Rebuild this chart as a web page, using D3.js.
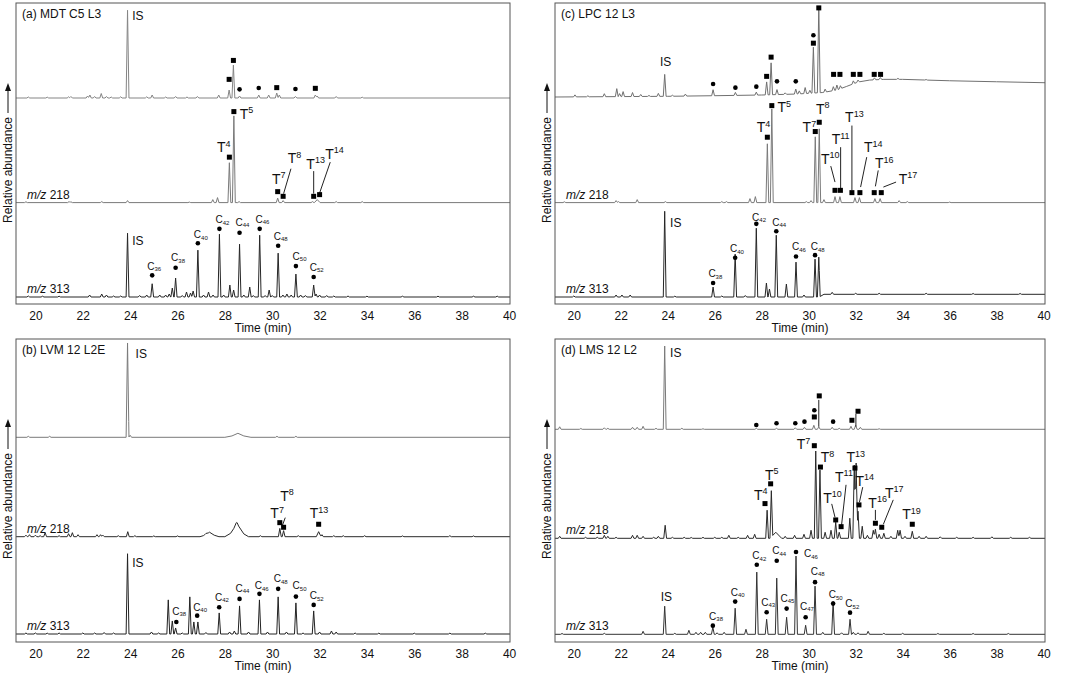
<!DOCTYPE html>
<html>
<head>
<meta charset="utf-8">
<script src="https://cdn.jsdelivr.net/npm/d3@7"></script>
<style>
  body { margin: 0; background: #fff; }
  svg { display: block; }
  text, tspan { font-family: "Liberation Sans", Arial, sans-serif; fill: #111; }
</style>
</head>
<body>
<svg id="chart" width="1065" height="675"></svg>
<script>
// ---- shared axis data ----
const timeTicks = [20, 22, 24, 26, 28, 30, 32, 34, 36, 38, 40];
const panelTitles = ["(a) MDT C5 L3", "(c) LPC 12 L3", "(b) LVM 12 L2E", "(d) LMS 12 L2"];
const traceNames = ["", "218", "313"];

// peaks: [time (min), height, half width (optional)]  heights in relative units
// marks: [time, level, "s" square | "c" circle]
// tLabels: [hopane number, time, level]   cLabels: [carbon number, time, level]
// leaders: [t1, level1, t2, level2]

// ===== (a) MDT C5 L3 =====
const aTopPeaks = [[19.7,1],[20.5,0.8],[21.4,1.2],[21.5,1.5],[22.2,2],[22.3,3],[22.5,1.5],[22.78,4.5],[23.0,1.5],[23.2,1],[23.6,1.2],[23.89,88],[24.7,1.2],[24.93,3],[25.5,1],[25.92,1.5],[26.4,1],[26.84,1.5],[27.74,3],[28.18,8],[28.36,33],[28.62,2],[29.43,3],[29.85,3],[30.19,5],[30.3,3],[30.98,1.5],[31.82,3],[31.9,2],[32.7,1.5],[33.8,0.8]];
const aTopMarks = [[28.18,18.7,"s"],[28.36,37.7,"s"],[28.62,8.7,"c"],[29.43,10,"c"],[30.19,10.4,"s"],[30.98,9,"c"],[31.82,9.7,"s"]];
const aTopIS = [24.09, 78];

const aMidPeaks = [[19.6,0.8],[21.42,1],[21.5,0.8],[22.8,1],[23.89,2],[26.5,0.5],[27.49,3],[27.69,5],[28.19,40],[28.38,87],[28.6,1],[30.23,4.5],[30.46,2],[31.7,1],[31.9,3,0.12],[32.7,1],[33.8,1]];
const aMidMarks = [[28.19,45.6,"s"],[28.38,91.3,"s"],[30.23,11,"s"],[30.46,6.3,"s"],[31.75,6.3,"s"],[32.0,8,"s"]];
const aMidT = [["4",27.67,50.6],["5",28.63,84],["7",29.99,19],["8",30.65,39.6],["13",31.44,34],["14",32.24,44]];
const aMidLeaders = [[30.48,9,30.79,34],[31.75,9,31.75,31.6],[32.0,9.6,32.45,40.6]];

const aBotPeaks = [[19.7,1],[20.3,0.8],[21.0,0.8],[22.29,2],[22.8,3],[23.0,2],[23.3,1],[23.6,1],[23.89,64],[24.4,1.5],[24.7,2],[24.93,13.3],[25.25,2],[25.5,2],[25.65,3],[25.78,9],[25.92,19],[26.2,1.5],[26.38,5],[26.55,4],[26.66,6],[26.86,47],[27.1,2],[27.31,5],[27.5,2],[27.77,63],[27.95,2],[28.21,12],[28.37,7],[28.62,53],[28.8,2],[29.05,10],[29.2,1.5],[29.47,62],[29.7,1.5],[29.87,7],[30.0,1.5],[30.25,44],[30.45,2],[30.62,3],[30.8,2],[31.0,23],[31.2,2],[31.4,1.5],[31.75,12],[31.85,3],[32.0,2],[32.3,1.5],[32.6,1],[33.2,1],[34,0.8],[35.5,0.8],[37.0,0.8],[38.5,0.8],[39.5,0.8]];
const aBotMarks = [[24.93,21.7,"c"],[25.92,29.4,"c"],[26.86,54,"c"],[27.77,68.4,"c"],[28.62,64.4,"c"],[29.47,68.4,"c"],[30.25,51.4,"c"],[31.0,31,"c"],[31.75,20,"c"]];
const aBotC = [["36",24.72,27.4],["38",25.73,35.7],["40",26.69,59],["42",27.6,74],["44",28.45,71.4],["46",29.29,74.7],["48",30.06,57.4],["50",30.86,37.4],["52",31.58,26.4]];
const aBotIS = [24.09, 52.4];

// ===== (c) LPC 12 L3 =====
const cTopPeaks = [[20.05,2],[20.6,1],[21.3,3],[21.83,8],[21.95,3],[22.1,5],[22.5,4],[22.85,2],[23.2,1],[23.6,3],[23.87,22],[24.2,1],[24.75,2],[25.93,6],[26.88,3],[27.77,3],[28.21,13],[28.4,32],[28.65,5],[29.0,1.5],[29.45,5],[29.6,3],[29.85,6],[30.05,3],[30.2,46],[30.43,87],[30.7,3],[31.05,4],[31.2,5],[31.35,3],[31.9,3],[32.1,2],[32.8,2],[33.05,2],[33.8,1],[35,0.5]];
const cTopBase = [[19.2,0],[24,0.7],[26,1.3],[28,2],[29.5,3],[30.6,4.5],[31.2,7],[31.6,10.5],[32.1,15],[32.6,17],[33.2,17.7],[34,17.7],[35,17],[36,16.3],[38,15.3],[40.1,14.3]];
const cTopMarks = [[25.93,13,"c"],[26.88,9.4,"c"],[27.77,10.4,"c"],[28.21,20.7,"s"],[28.4,40,"s"],[28.65,15.7,"c"],[29.45,15.7,"c"],[30.2,54,"s"],[30.2,62,"c"],[30.43,89.4,"s"],[31.06,22.7,"s"],[31.33,22.7,"s"],[31.9,22.7,"s"],[32.18,22.7,"s"],[32.79,22.7,"s"],[33.06,22.7,"s"]];
const cTopIS = [23.67, 30.7];

const cMidPeaks = [[19.6,0.8],[21.8,2],[21.9,1],[22.7,3],[23.9,1],[26.3,1],[26.5,1],[27.5,4],[27.73,6],[28.24,59],[28.43,94],[29.9,1],[30.1,2],[30.28,66],[30.45,74],[30.65,3],[31.12,6],[31.33,6],[31.97,5],[32.16,5],[32.82,4],[33.04,4],[33.85,2],[34.2,1],[36,0.5]];
const cMidMarks = [[28.24,65.6,"s"],[28.43,97.3,"s"],[30.28,71.3,"s"],[30.45,80.6,"s"],[31.12,12.3,"s"],[31.35,12.3,"s"],[31.84,10,"s"],[32.18,10,"s"],[32.79,10,"s"],[33.09,10,"s"]];
const cMidT = [["4",27.79,70.6],["5",28.67,90.6],["7",29.74,70.6],["8",30.31,89],["10",30.52,39],["11",30.98,58.3],["13",31.55,80.6],["14",32.35,50.6],["16",32.82,34.6],["17",33.83,19]];
const cMidLeaders = [[30.94,36.6,31.12,20.6],[31.36,55.6,31.36,14],[31.84,77.3,31.84,12.3],[32.47,45.6,32.21,15.6],[32.96,32.3,32.84,16.3],[33.72,20.6,33.18,15.6]];

const cBotPeaks = [[20.0,1],[21.8,2],[22.05,2],[22.4,2],[23.87,86],[24.3,0.8],[25.93,10],[26.3,1],[26.87,43],[27.3,1.5],[27.77,69],[28.2,14],[28.33,8],[28.62,62],[29.05,13],[29.46,35],[29.8,2],[30.27,38],[30.43,40],[31.0,2],[32.0,1],[33.0,1],[35,1],[37,0.8],[39,0.8]];
const cBotBase = [[19.2,0],[30.45,0],[30.65,2.7],[40.1,2.7]];
const cBotMarks = [[25.93,14,"c"],[26.87,39.4,"c"],[27.77,73.4,"c"],[28.62,66,"c"],[29.46,40.7,"c"],[30.27,42,"c"]];
const cBotC = [["38",25.73,20],["40",26.65,45],["42",27.59,76.7],["44",28.45,71.7],["46",29.29,46.7],["48",30.09,46.7]];
const cBotIS = [24.1, 70.7];

// ===== (b) LVM 12 L2E =====
const bTopPeaks = [[19.7,1],[20.6,1],[23.89,94],[24.0,2],[28.55,2.5,0.55],[28.55,1.5,0.25],[30.2,1],[31.0,1]];
const bTopIS = [24.23, 79];

const bMidPeaks = [[19.6,1.5],[19.75,2],[20.0,1.5],[20.2,1],[20.41,4],[21.0,1],[21.4,3],[21.56,4],[21.8,2],[22.6,2],[22.75,2],[22.85,1.5],[23.5,1],[23.9,5],[24.2,1],[25.0,0.8],[26.0,0.8],[27.35,3,0.4],[27.35,1.5,0.2],[27.2,1,0.1],[28.5,7,0.5],[28.52,6,0.28],[28.48,2,0.1],[29.5,1],[30.32,8.3],[30.48,6],[31.1,1],[31.96,5,0.1],[32.1,2],[32.6,1],[33.0,1],[33.9,1],[35.5,0.8],[37.5,1],[38.5,0.8]];
const bMidMarks = [[30.32,14,"s"],[30.48,9.4,"s"],[31.96,12.4,"s"]];
const bMidT = [["7",29.92,18.4],["8",30.34,36],["13",31.58,18.4]];
const bMidLeaders = [[30.41,10,30.55,19]];

const bBotPeaks = [[19.6,1],[20.0,1],[20.5,0.8],[21.0,1],[22.0,1],[22.5,1],[22.9,1.5],[23.3,1],[23.89,80],[24.9,2],[25.2,1],[25.61,34],[25.78,13],[25.92,6],[26.2,1],[26.52,37],[26.69,12],[26.86,12],[27.2,1.5],[27.76,21],[28.2,2],[28.4,3],[28.62,28],[29.0,2],[29.46,34],[29.8,2],[30.25,37],[30.6,2],[31.0,31],[31.3,1],[31.75,23],[32.0,2],[32.5,3],[32.7,2],[33.5,1],[34.5,0.8],[36,0.8],[37.5,0.8],[39,0.8]];
const bBotMarks = [[25.95,12,"c"],[26.83,18.3,"c"],[27.76,26.7,"c"],[28.62,35,"c"],[29.46,40,"c"],[30.25,45,"c"],[31.0,37.3,"c"],[31.75,29,"c"]];
const bBotC = [["38",25.78,19],["40",26.66,23],["42",27.58,33],["44",28.45,42.3],["46",29.26,44.7],["48",30.06,51.7],["50",30.86,44.7],["52",31.58,34.7]];
const bBotIS = [24.09, 66.7];

// ===== (d) LMS 12 L2 =====
const dTopPeaks = [[19.4,2.5],[20.3,0.8],[21.3,1.5],[21.45,1],[22.5,2],[22.7,2],[22.95,3],[23.5,1],[23.87,83],[24.6,1],[25.5,0.5],[27.77,1],[28.63,1],[29.43,1.5],[29.82,2],[30.22,4],[30.43,2.5],[31.0,2],[31.3,1],[31.8,3],[32.0,4],[32.2,2],[33,0.5]];
const dTopMarks = [[27.77,4.3,"c"],[28.63,6,"c"],[29.43,6,"c"],[29.82,7.6,"c"],[30.24,19,"c"],[30.24,12.3,"s"],[30.45,33.3,"s"],[31.04,7.6,"c"],[31.84,9,"s"],[32.1,18,"s"]];
const dTopLeaders = [[30.43,29.3,30.43,2.6],[32.01,15.3,32.01,2.6]];
const dTopIS = [24.1, 72];

const dMidPeaks = [[19.4,2],[20.5,1],[21.0,1],[21.3,3],[21.45,2],[21.8,1],[22.5,3],[22.7,3],[22.95,2],[23.4,1],[23.6,2],[23.89,13],[24.2,1],[24.7,1],[25.0,0.8],[25.5,1],[26.0,1],[26.3,1],[26.6,3],[27.0,1],[27.4,3],[27.7,4],[28.23,28],[28.41,46],[28.6,6,0.25],[29.0,2],[29.4,3],[29.8,4],[30.1,8],[30.3,87],[30.48,68],[30.7,6],[30.95,8],[31.15,16],[31.3,6],[31.75,20],[31.94,73],[32.02,75],[32.1,27],[32.28,12],[32.5,3],[32.75,8],[32.84,9],[33.0,4],[33.2,5],[33.5,2],[33.79,8],[33.89,8],[34.1,2],[34.41,7],[34.7,2],[35.0,2],[35.6,1.5],[36.3,1],[37.0,1],[37.8,1.5],[38.6,1],[39.4,1]];
const dMidMarks = [[28.14,34.6,"s"],[28.38,54.3,"s"],[30.24,92.3,"s"],[30.5,71,"s"],[31.15,18.3,"s"],[31.38,11.6,"s"],[31.97,70,"s"],[32.14,33.3,"s"],[32.84,15,"s"],[33.11,11,"s"],[34.41,14,"s"]];
const dMidT = [["4",27.67,38.3],["5",28.14,58.3],["7",29.49,89],["8",30.51,76],["10",30.62,35.6],["11",31.12,56.6],["13",31.61,75.6],["14",31.99,52.3],["16",32.54,30.6],["17",33.25,40.6],["19",33.98,19]];
const dMidLeaders = [[30.98,34.3,31.12,21],[31.59,53.3,31.4,13.3],[32.3,51,32.16,36],[32.84,28.3,32.84,18.3],[33.6,38.3,33.18,14]];

const dBotPeaks = [[19.5,0.8],[21.3,1],[22.95,3],[23.87,28],[24.3,1],[24.9,4],[25.2,2],[25.4,2],[25.6,2],[25.92,7],[26.1,1.5],[26.4,2],[26.87,26],[27.33,5],[27.79,62],[28.21,15],[28.64,56],[29.06,17],[29.46,78],[29.87,9],[30.27,48],[30.6,2],[31.04,33],[31.4,1.5],[31.76,15],[31.9,2],[32.1,1.5],[32.53,3],[33.2,1],[34.0,1],[35.5,0.8],[37,0.8],[38.5,0.8]];
const dBotMarks = [[25.92,8.6,"c"],[26.87,32.6,"c"],[27.79,69.3,"c"],[28.21,22,"c"],[28.64,73.3,"c"],[29.06,25.6,"c"],[29.46,82,"c"],[29.87,17,"c"],[30.27,52,"c"],[31.04,30.6,"c"],[31.76,21.6,"c"]];
const dBotC = [["38",25.76,14.3],["40",26.68,38.3],["42",27.6,75],["43",27.98,28.3],["44",28.45,80],["45",28.8,32.3],["46",29.8,77],["47",29.63,24.3],["48",30.09,59.3],["50",30.85,36],["52",31.56,27]];
const dBotIS = [23.7, 33.6];

// ---- layout ----
const svg = d3.select("#chart");
const W = 0.06; // default peak half width in min

const panels = [
  { title: panelTitles[0], x: 16, y: 3, w: 494, h: 301, dom: [19.18, 40.04],
    traces: [
      { off: 95, peaks: aTopPeaks, marks: aTopMarks, is: aTopIS, color: "#858585" },
      { off: 199.6, peaks: aMidPeaks, marks: aMidMarks, tl: aMidT, lead: aMidLeaders, color: "#7a7a7a", name: traceNames[1] },
      { off: 294, peaks: aBotPeaks, marks: aBotMarks, cl: aBotC, is: aBotIS, color: "#262626", name: traceNames[2] } ] },
  { title: panelTitles[1], x: 555, y: 3, w: 490, h: 301, dom: [19.2, 40.06],
    traces: [
      { off: 94, peaks: cTopPeaks, base: cTopBase, marks: cTopMarks, is: cTopIS, color: "#707070" },
      { off: 199.6, peaks: cMidPeaks, marks: cMidMarks, tl: cMidT, lead: cMidLeaders, color: "#7a7a7a", name: traceNames[1] },
      { off: 294, peaks: cBotPeaks, base: cBotBase, marks: cBotMarks, cl: cBotC, is: cBotIS, color: "#262626", name: traceNames[2] } ] },
  { title: panelTitles[2], x: 16, y: 339, w: 494, h: 303, dom: [19.18, 40.04],
    traces: [
      { off: 98.3, peaks: bTopPeaks, marks: [], is: bTopIS, color: "#7a7a7a" },
      { off: 197.7, peaks: bMidPeaks, marks: bMidMarks, tl: bMidT, lead: bMidLeaders, color: "#2a2a2a", name: traceNames[1] },
      { off: 295, peaks: bBotPeaks, marks: bBotMarks, cl: bBotC, is: bBotIS, color: "#222", name: traceNames[2] } ] },
  { title: panelTitles[3], x: 555, y: 339, w: 490, h: 303, dom: [19.2, 40.06],
    traces: [
      { off: 90.3, peaks: dTopPeaks, marks: dTopMarks, lead: dTopLeaders, is: dTopIS, color: "#7a7a7a" },
      { off: 199.3, peaks: dMidPeaks, marks: dMidMarks, tl: dMidT, lead: dMidLeaders, color: "#2a2a2a", name: traceNames[1] },
      { off: 295.3, peaks: dBotPeaks, marks: dBotMarks, cl: dBotC, is: dBotIS, color: "#333", name: traceNames[2] } ] }
];

// build line vertices: baseline breakpoints plus three vertices per peak (triangular spike)
function traceData(peaks, base, dom) {
  base = base || [[dom[0], 0], [dom[1], 0]];
  const ts = new Set([dom[0], dom[1]]);
  base.forEach(b => ts.add(b[0]));
  peaks.forEach(p => { const w = p[2] || W; ts.add(p[0] - w); ts.add(p[0]); ts.add(p[0] + w); });
  const baseAt = d3.scaleLinear().domain(base.map(b => b[0])).range(base.map(b => b[1])).clamp(true);
  return [...ts].filter(t => t >= dom[0] && t <= dom[1]).sort((a, b) => a - b)
    .map(t => [t, baseAt(t) + d3.sum(peaks, p => {
      const w = p[2] || W, d = Math.abs(t - p[0]);
      return d < w ? p[1] * (1 - d / w) : 0;
    })]);
}

panels.forEach(P => {
  const g = svg.append("g");
  const x = d3.scaleLinear().domain(P.dom).range([P.x, P.x + P.w]);

  const clipId = "clip" + P.x + "_" + P.y;
  svg.append("clipPath").attr("id", clipId).append("rect")
    .attr("x", P.x).attr("y", P.y).attr("width", P.w).attr("height", P.h);

  // x axis, no tick marks
  const axis = d3.axisBottom(x).tickValues(timeTicks).tickSize(0).tickPadding(5).tickFormat(d3.format("d"));
  const ag = g.append("g").attr("transform", `translate(0,${P.y + P.h + 2})`).call(axis);
  ag.select(".domain").remove();
  ag.selectAll("text").attr("font-size", 12).attr("fill", "#111")
    .attr("font-family", '"Liberation Sans", Arial, sans-serif');

  g.append("text").attr("x", P.x + P.w / 2).attr("y", P.y + P.h + 28)
    .attr("text-anchor", "middle").attr("font-size", 12).text("Time (min)");

  // y label with arrow
  const lx = P.x - 8, ly = P.y + 167;
  g.append("text").attr("transform", `translate(${lx + 4},${ly}) rotate(-90)`)
    .attr("text-anchor", "middle").attr("font-size", 12).text("Relative abundance");
  g.append("line").attr("x1", lx).attr("x2", lx).attr("y1", ly - 57).attr("y2", ly - 80)
    .attr("stroke", "#111").attr("stroke-width", 1);
  g.append("path").attr("d", `M${lx - 3},${ly - 79}L${lx},${ly - 87}L${lx + 3},${ly - 79}Z`).attr("fill", "#111");

  const body = g.append("g").attr("clip-path", `url(#${clipId})`);

  P.traces.forEach(T => {
    const y = d3.scaleLinear().domain([0, 100]).range([P.y + T.off, P.y + T.off - P.h / 3.02]);
    const pts = traceData(T.peaks, T.base, P.dom);
    body.append("path").datum(pts)
      .attr("d", d3.line().x(d => x(d[0])).y(d => y(d[1])))
      .attr("fill", "none").attr("stroke", T.color).attr("stroke-width", 1)
      .attr("stroke-linejoin", "round");

    (T.lead || []).forEach(l => {
      g.append("line").attr("x1", x(l[0])).attr("y1", y(l[1])).attr("x2", x(l[2])).attr("y2", y(l[3]))
        .attr("stroke", "#222").attr("stroke-width", 1);
    });

    T.marks.forEach(m => {
      if (m[2] === "s") {
        g.append("rect").attr("x", x(m[0]) - 2.5).attr("y", y(m[1]) - 2.5)
          .attr("width", 5).attr("height", 5).attr("fill", "#000");
      } else {
        g.append("circle").attr("cx", x(m[0])).attr("cy", y(m[1])).attr("r", 2.3).attr("fill", "#000");
      }
    });

    (T.tl || []).forEach(l => {
      const t = g.append("text").attr("x", x(l[1])).attr("y", y(l[2])).attr("font-size", 14);
      t.append("tspan").attr("fill", "#111").text("T");
      t.append("tspan").attr("fill", "#111").attr("font-size", 9).attr("dy", -5.5).text(l[0]);
    });

    (T.cl || []).forEach(l => {
      const t = g.append("text").attr("x", x(l[1])).attr("y", y(l[2])).attr("font-size", 10);
      t.append("tspan").attr("fill", "#111").text("C");
      t.append("tspan").attr("fill", "#111").attr("font-size", 6).attr("dy", 1.5).text(l[0]);
    });

    if (T.is) {
      g.append("text").attr("x", x(T.is[0])).attr("y", y(T.is[1])).attr("font-size", 12).text("IS");
    }

    if (T.name) {
      const t = g.append("text").attr("x", P.x + 11).attr("y", P.y + T.off - 4).attr("font-size", 12);
      t.append("tspan").attr("font-style", "italic").text("m/z");
      t.append("tspan").text(" " + T.name);
    }
  });

  // frame
  g.append("rect").attr("x", P.x).attr("y", P.y).attr("width", P.w).attr("height", P.h)
    .attr("fill", "none").attr("stroke", "#555").attr("stroke-width", 1);

  g.append("text").attr("x", P.x + 6).attr("y", P.y + 15).attr("font-size", 12).text(P.title);
});
</script>
</body>
</html>
